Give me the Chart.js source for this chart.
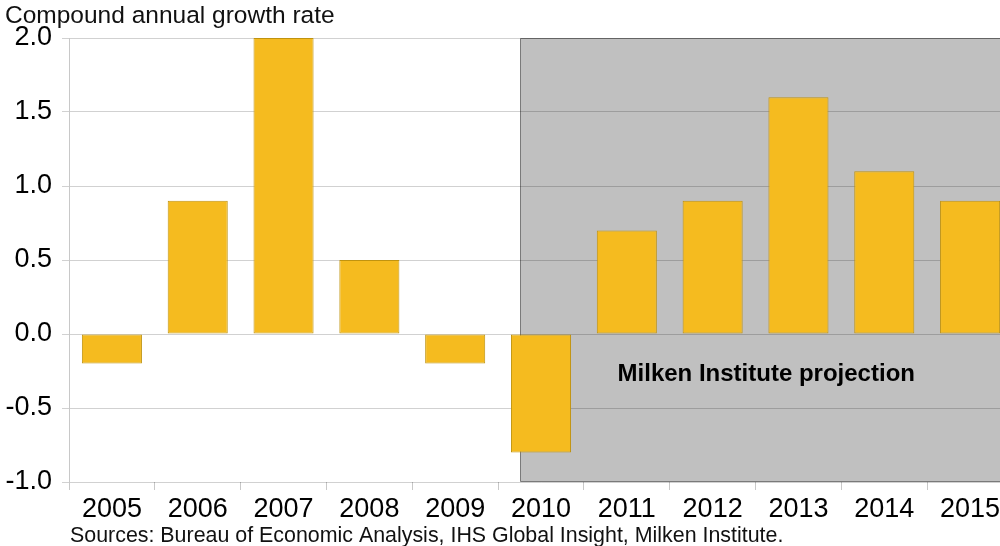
<!DOCTYPE html>
<html>
<head>
<meta charset="utf-8">
<script src="https://cdn.jsdelivr.net/npm/chart.js@4.4.1/dist/chart.umd.min.js"></script>
<style>
  html, body { margin: 0; padding: 0; background: #fff; overflow: hidden; }
  #wrap { width: 1014px; height: 546px; }
</style>
</head>
<body>
<div id="wrap"><canvas id="barChart" width="1014" height="546"></canvas></div>
<script>
// Tasa de crecimiento anual compuesta, 2005-2015 (desde 2010: proyección)
var years = ['2005', '2006', '2007', '2008', '2009', '2010', '2011', '2012', '2013', '2014', '2015'];
var growthRate = [-0.2, 0.9, 2.0, 0.5, -0.2, -0.8, 0.7, 0.9, 1.6, 1.1, 0.9];
var yTicks = [-1.0, -0.5, 0.0, 0.5, 1.0, 1.5, 2.0];
var projectionFrom = 4.75; // la zona gris empieza dentro de la categoría 2010
var projectionLabelY = -0.27;

var FONT = '"Liberation Sans", Arial, sans-serif';

// fondo gris de la proyección + textos sueltos
var projectionBox = {
  id: 'projectionBox',
  beforeDraw: function (chart) {
    var ctx = chart.ctx, area = chart.chartArea, x = chart.scales.x;
    var left = Math.round(x.getPixelForValue(projectionFrom)) + 0.5;
    ctx.save();
    ctx.fillStyle = '#c0c0c0';
    ctx.fillRect(left, area.top, area.right - left, area.bottom - area.top);
    ctx.strokeStyle = '#7a7a7a';
    ctx.lineWidth = 1;
    ctx.beginPath();
    ctx.moveTo(area.right + 2, area.top + 0.5);
    ctx.lineTo(left, area.top + 0.5);
    ctx.lineTo(left, area.bottom - 0.5);
    ctx.lineTo(area.right + 2, area.bottom - 0.5);
    ctx.stroke();
    ctx.restore();
  },
  afterDraw: function (chart) {
    var ctx = chart.ctx, area = chart.chartArea, x = chart.scales.x, y = chart.scales.y;
    var left = x.getPixelForValue(projectionFrom);
    ctx.save();
    ctx.fillStyle = '#000';
    ctx.textBaseline = 'middle';
    ctx.textAlign = 'center';
    ctx.font = 'bold 24px ' + FONT;
    ctx.fillText('Milken Institute projection', (left + area.right) / 2, y.getPixelForValue(projectionLabelY));
    ctx.textAlign = 'left';
    ctx.font = '24.5px ' + FONT;
    ctx.fillStyle = '#111';
    ctx.fillText('Compound annual growth rate', 5, 16);
    ctx.font = '21.4px ' + FONT;
    ctx.fillText('Sources: Bureau of Economic Analysis, IHS Global Insight, Milken Institute.', 70, 536);
    ctx.restore();
  }
};

var ctx = document.getElementById('barChart').getContext('2d');

var barChart = new Chart(ctx, {
  type: 'bar',
  data: {
    labels: years,
    datasets: [{
      data: growthRate,
      backgroundColor: '#f5bb1f',
      borderColor: '#c0930f',
      borderWidth: 1,
      borderSkipped: false,
      categoryPercentage: 1,
      barPercentage: 0.7
    }]
  },
  options: {
    responsive: false,
    animation: false,
    devicePixelRatio: 1,
    layout: { padding: { top: 38, left: 0, right: 1, bottom: 0 } },
    plugins: {
      legend: { display: false },
      title: { display: false },
      tooltip: { enabled: false }
    },
    scales: {
      x: {
        offset: true,
        grid: {
          offset: true,
          drawOnChartArea: false,
          drawTicks: true,
          tickLength: 8,
          color: '#c8c8c8'
        },
        border: { display: false },
        ticks: {
          color: '#000',
          font: { family: FONT, size: 27 },
          padding: 3,
          maxRotation: 0,
          autoSkip: false
        },
        afterFit: function (scale) { scale.height = 64; }
      },
      y: {
        min: -1,
        max: 2,
        afterBuildTicks: function (scale) {
          scale.ticks = yTicks.map(function (v) { return { value: v }; });
        },
        grid: {
          color: 'rgba(0, 0, 0, 0.18)',
          tickLength: 7
        },
        border: { display: true, color: '#c8c8c8' },
        ticks: {
          color: '#000',
          font: { family: FONT, size: 27 },
          padding: 10,
          callback: function (v) { return Number(v).toFixed(1); }
        },
        afterFit: function (scale) { scale.width = 69; }
      }
    }
  },
  plugins: [projectionBox]
});
</script>
</body>
</html>
